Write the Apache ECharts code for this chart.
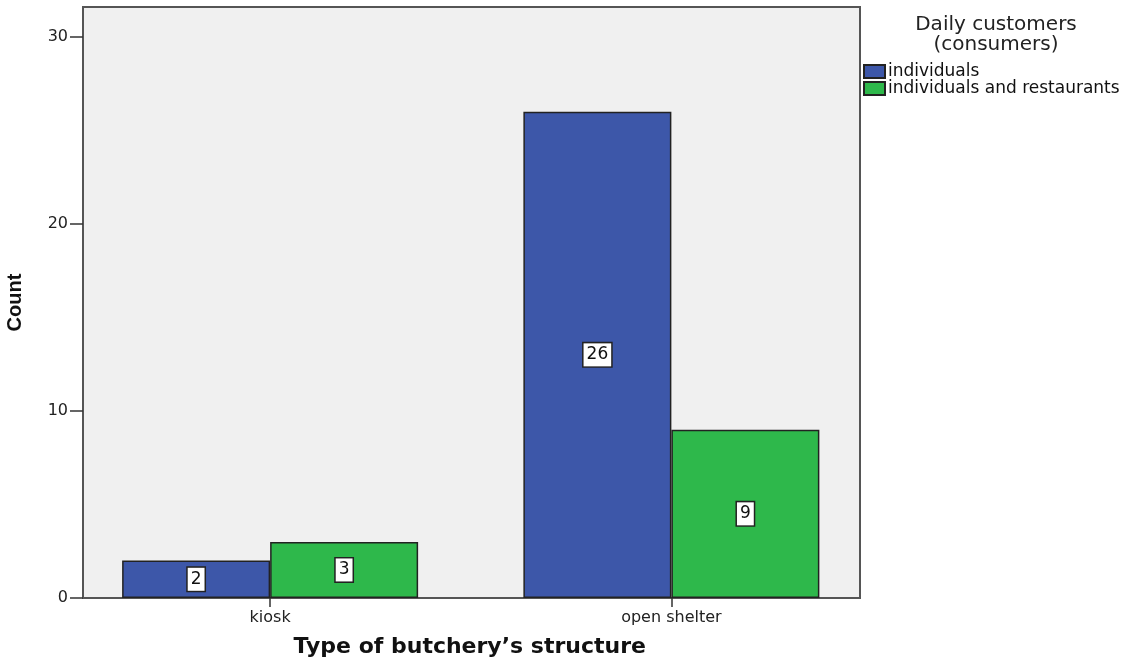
<!DOCTYPE html>
<html>
<head>
<meta charset="utf-8">
<script src="https://cdn.jsdelivr.net/npm/echarts@6/dist/echarts.min.js"></script>
<style>
  html, body { margin: 0; padding: 0; background: #fff; }
  #chart { width: 1132px; height: 660px; }
</style>
</head>
<body>
<div id="chart"></div>
<script>
// Butchery structure vs. daily customer type (counts)
const categories = ['kiosk', 'open shelter'];
const seriesNames = ['individuals', 'individuals and restaurants'];
const individuals = [2, 26];
const individualsAndRestaurants = [3, 9];
const yTicks = [0, 10, 20, 30];
const yMax = 31.6;

const BLUE = '#3d57a9';
const GREEN = '#2eb84b';
const FONT = '"DejaVu Sans", Verdana, sans-serif';

const valueLabel = {
  show: true,
  position: 'inside',
  fontFamily: FONT,
  fontSize: 17,
  color: '#111',
  backgroundColor: '#ffffff',
  borderColor: '#222',
  borderWidth: 1.5,
  padding: [4, 3, 2, 3]
};

const chart = echarts.init(document.getElementById('chart'), null, { renderer: 'canvas' });

chart.setOption({
  animation: false,
  backgroundColor: '#ffffff',
  title: {
    text: 'Daily customers\n(consumers)',
    left: 996,
    top: 15,
    padding: 0,
    textAlign: 'center',
    textStyle: {
      fontFamily: FONT,
      fontWeight: 'normal',
      fontSize: 20,
      lineHeight: 20,
      color: '#222'
    }
  },
  legend: {
    orient: 'vertical',
    left: 863,
    top: 63,
    padding: 0,
    itemWidth: 21,
    itemHeight: 13,
    itemGap: 0,
    icon: 'rect',
    textStyle: { fontFamily: FONT, fontSize: 17, lineHeight: 17, color: '#111', padding: [0, 0, 0, -2] },
    data: seriesNames
  },
  grid: [
    // frame: background, border and value axis
    { left: 83, right: 272, top: 7, bottom: 62, outerBoundsMode: 'none', containLabel: false,
      show: true, backgroundColor: '#f0f0f0', borderColor: '#555', borderWidth: 2 },
    // bars: category spacing wider than the frame
    { left: 69.5, right: 260, top: 7, bottom: 62, outerBoundsMode: 'none', containLabel: false }
  ],
  xAxis: [
    { type: 'category', gridIndex: 0, data: categories, show: false },
    {
      type: 'category', gridIndex: 1, data: categories,
      axisLine: { show: false },
      axisTick: { show: true, alignWithLabel: true, length: 9, lineStyle: { color: '#333', width: 1.5 } },
      axisLabel: { fontFamily: FONT, fontSize: 16, color: '#222', margin: 12 },
      name: 'Type of butchery\u2019s structure',
      nameLocation: 'middle',
      nameGap: 38,
      nameTextStyle: { fontFamily: FONT, fontWeight: 'bold', fontSize: 22, color: '#111', padding: [0, 0, 0, -2] }
    }
  ],
  yAxis: [
    {
      type: 'value', gridIndex: 0, min: 0, max: yMax,
      axisLine: { show: false },
      splitLine: { show: false },
      axisTick: { show: true, length: 13, customValues: yTicks, lineStyle: { color: '#333', width: 1.5 } },
      axisLabel: { customValues: yTicks, fontFamily: FONT, fontSize: 16, color: '#222', margin: 15 },
      name: 'Count',
      nameLocation: 'middle',
      nameGap: 58,
      nameRotate: 90,
      nameTextStyle: { fontFamily: '"Liberation Sans Narrow", "Arial Narrow", sans-serif', fontWeight: 'bold', fontSize: 20, color: '#111' }
    },
    { type: 'value', gridIndex: 1, min: 0, max: yMax, show: false, splitLine: { show: false } }
  ],
  series: [
    {
      name: seriesNames[0], type: 'bar', xAxisIndex: 1, yAxisIndex: 1,
      data: individuals, barWidth: 148, barGap: '0%',
      itemStyle: { color: BLUE, borderColor: '#222', borderWidth: 1.5 },
      label: valueLabel
    },
    {
      name: seriesNames[1], type: 'bar', xAxisIndex: 1, yAxisIndex: 1,
      data: individualsAndRestaurants, barWidth: 148, barGap: '0%',
      itemStyle: { color: GREEN, borderColor: '#222', borderWidth: 1.5 },
      label: valueLabel
    }
  ]
});
</script>
</body>
</html>
